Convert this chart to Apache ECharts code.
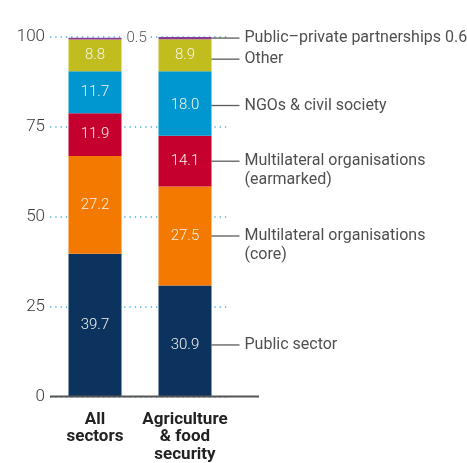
<!DOCTYPE html>
<html>
<head>
<meta charset="utf-8">
<script src="https://cdn.jsdelivr.net/npm/echarts@6/dist/echarts.min.js"></script>
<style>html,body{margin:0;padding:0;background:#fff}#c{width:467px;height:463px}</style>
</head>
<body>
<div id="c"></div>
<script>
const categories = ['All\nsectors', 'Agriculture\n& food\nsecurity'];
const publicSector = [39.7, 30.9];
const multiCore = [27.2, 27.5];
const multiEarmarked = [11.9, 14.1];
const ngos = [11.7, 18.0];
const other = [8.8, 8.9];
const ppp = [0.5, 0.6];
const seriesNames = ['Public sector', 'Multilateral organisations (core)', 'Multilateral organisations (earmarked)', 'NGOs & civil society', 'Other', 'Public–private partnerships'];
const annotationLines = [['Public sector'], ['Multilateral organisations', '(core)'], ['Multilateral organisations', '(earmarked)'], ['NGOs & civil society'], ['Other'], ['Public–private partnerships 0.6']];
const yTicks = [0, 25, 50, 75, 100];

const seriesValues = [publicSector, multiCore, multiEarmarked, ngos, other, ppp];
const colors = ['#0c335e', '#f47900', '#c5002f', '#0096cf', '#c2bd1f', '#8b3a96'];
const FONT = 'Roboto';
const annotDy = [4, 0, 0, 2, 4, 0];
const innerDy = [[0, 4], [0, 0], [0, 0], [0, 2], [0, 0], [0, 0]];

const series = seriesValues.map((vals, si) => ({
  name: seriesNames[si],
  type: 'bar',
  stack: 'total',
  barWidth: 53,
  itemStyle: { color: colors[si] },
  data: vals.map((v, ci) => {
    const d = { value: v };
    if (si === 5) {
      d.label = ci === 0 ? {
        show: true, position: 'right', distance: 3, color: '#555', fontSize: 15, fontWeight: 300,
        fontFamily: FONT, backgroundColor: '#fff', padding: [0, 2, 0, 2], formatter: (p) => p.value.toFixed(1)
      } : { show: false };
    } else {
      d.label = {
        show: true, position: 'inside', color: '#f4f4ec', fontSize: 15, fontWeight: 300, fontFamily: FONT,
        offset: [0, innerDy[si][ci]], formatter: (p) => p.value.toFixed(1)
      };
    }
    return d;
  })
}));

// annotation points for the second bar
const annData = [];
let cum = 0;
seriesValues.forEach((vals, si) => {
  const v = vals[1];
  annData.push({
    value: [1, cum + v / 2],
    label: {
      show: true,
      position: [26.5, -9.5 + annotDy[si]],
      align: 'left',
      verticalAlign: 'top',
      formatter: annotationLines[si].map((t, li) => (li === 0 ? '{ln|}' : '{sp|}') + '{t|' + t + '}').join('\n'),
      rich: {
        ln: { width: 28, height: 1.3, backgroundColor: '#333', verticalAlign: 'middle' },
        sp: { width: 28, height: 1 },
        t: { fontSize: 16, fontFamily: FONT, color: '#222', lineHeight: 19, padding: [0, 0, 0, 5] }
      }
    }
  });
  cum += v;
});

series.push({
  type: 'scatter',
  symbolSize: 0,
  z: 5,
  silent: true,
  data: annData
});

const chart = echarts.init(document.getElementById('c'), null, { renderer: 'canvas' });
chart.setOption({
  animation: false,
  grid: { left: 50, right: 237, top: 37, bottom: 65 },
  xAxis: {
    type: 'category',
    data: categories,
    axisTick: { show: false },
    axisLine: { show: false },
    axisLabel: { fontSize: 17, fontWeight: 'bold', fontFamily: FONT, color: '#222', lineHeight: 17.5, margin: 14, interval: 0 }
  },
  yAxis: {
    type: 'value',
    min: yTicks[0],
    max: yTicks[yTicks.length - 1],
    interval: yTicks[1] - yTicks[0],
    axisLine: { show: false },
    axisTick: { show: false },
    axisLabel: { fontSize: 17, fontWeight: 300, fontFamily: FONT, color: '#3a3a3a', margin: 5 },
    splitLine: { lineStyle: { color: '#45b0e0', width: 1.5, type: [1.3, 4] } }
  },
  series: series
});

// baseline, extended a little to the right like the original
const p0 = chart.convertToPixel({ gridIndex: 0 }, [0, 0]);
const gridLeft = 50, gridRight = 467 - 237;
chart.setOption({
  graphic: [{
    type: 'line',
    z: 10,
    shape: { x1: gridLeft, y1: p0[1], x2: gridRight + 29, y2: p0[1] },
    style: { stroke: '#555', lineWidth: 2 }
  }]
});
</script>
</body>
</html>
